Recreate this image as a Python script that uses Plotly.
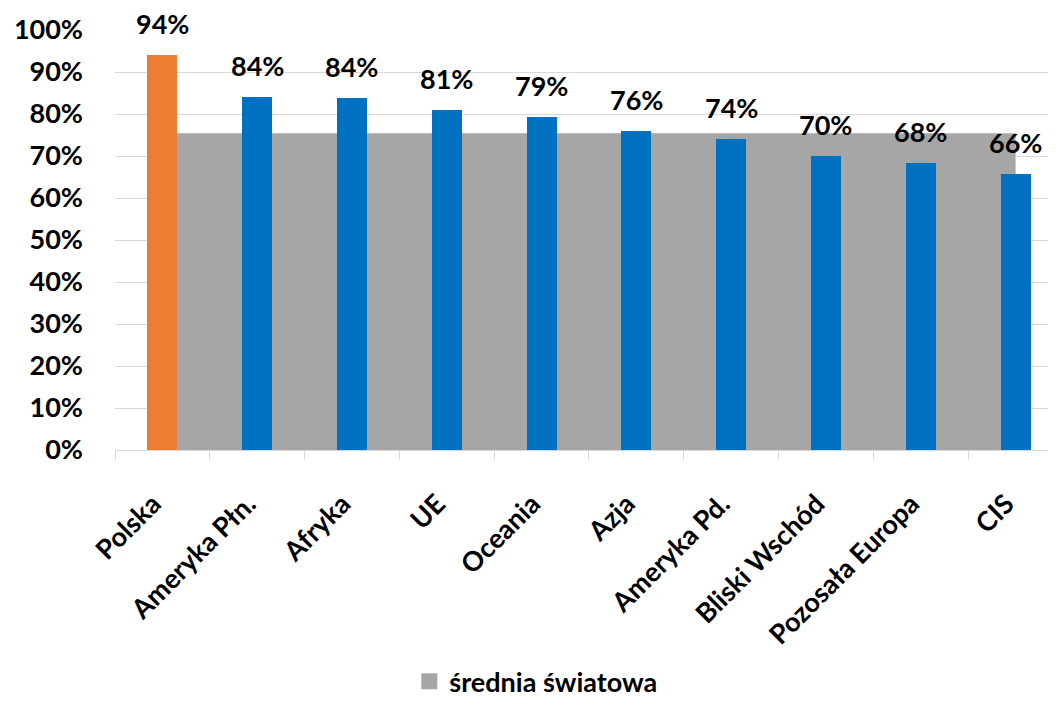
import plotly.graph_objects as go

categories = ["Polska", "Ameryka Płn.", "Afryka", "UE", "Oceania", "Azja",
              "Ameryka Pd.", "Bliski Wschód", "Pozosała Europa", "CIS"]
values = [0.9405, 0.841, 0.839, 0.810, 0.794, 0.760, 0.741, 0.700, 0.684, 0.657]
world_avg = [0.754] * len(categories)
avg_name = "średnia światowa"
bar_colors = ["#ED7D31"] + ["#0070C0"] * (len(categories) - 1)
y_ticks = [i / 10 for i in range(11)]

FONT = "Lato"
fig = go.Figure()

# world average area (base subplot, drawn below bars)
fig.add_trace(go.Scatter(
    x=categories, y=world_avg, mode="none", fill="tozeroy",
    fillcolor="#A6A6A6", showlegend=False, hoverinfo="skip",
    xaxis="x", yaxis="y",
))
# bars on an overlaid subplot so they sit above the area
fig.add_trace(go.Bar(
    x=categories, y=values, marker=dict(color=bar_colors, line=dict(width=0)),
    width=0.316, showlegend=False, hoverinfo="skip",
    xaxis="x", yaxis="y2",
))
# legend entry for world average
fig.add_trace(go.Scatter(
    x=[None], y=[None], mode="markers", name=avg_name,
    marker=dict(symbol="square", size=17, color="#A6A6A6"),
    xaxis="x", yaxis="y",
))

for c, v in zip(categories, values):
    fig.add_annotation(
        x=c, y=v, xref="x", yref="y", text=f"{round(v * 100)}%", showarrow=False,
        yanchor="bottom", yshift=13,
        font=dict(family=FONT, size=27, color="#000000", weight="bold"),
    )

fig.update_layout(
    width=1040, height=694,
    margin=dict(l=107, r=0, t=22, b=251.5, autoexpand=False),
    paper_bgcolor="white", plot_bgcolor="white",
    font=dict(family=FONT, size=27, color="#000000", weight="bold"),
    showlegend=True,
    legend=dict(orientation="h", x=0.451, xanchor="center", y=-0.61, yanchor="bottom",
                font=dict(family=FONT, size=27, color="#000000", weight="bold"),
                bgcolor="rgba(0,0,0,0)"),
    bargap=0,
    xaxis=dict(
        type="category", range=[-0.5, 9.342], automargin=False,
        tickvals=categories, ticktext=[c + "\u00a0\u00a0" for c in categories],
        showline=True, linecolor="#D9D9D9", linewidth=1.3,
        ticks="outside", tickson="boundaries", ticklen=9, tickcolor="#D9D9D9", tickwidth=1.3,
        tickangle=-45, ticklabelstandoff=17, showgrid=False,
        tickfont=dict(family=FONT, size=27, color="#000000", weight="bold"),
    ),
    yaxis=dict(
        range=[0, 1.0], tickvals=y_ticks, tickformat=".0%", automargin=False,
        showgrid=True, gridcolor="#D9D9D9", gridwidth=1.3, zeroline=False,
        showline=False, ticks="", ticklabelstandoff=31,
        tickfont=dict(family=FONT, size=27, color="#000000", weight="bold"),
    ),
    yaxis2=dict(
        range=[0, 1.0], overlaying="y", visible=False, showgrid=False,
        zeroline=False, automargin=False,
    ),
)

fig.write_html("out.html")
